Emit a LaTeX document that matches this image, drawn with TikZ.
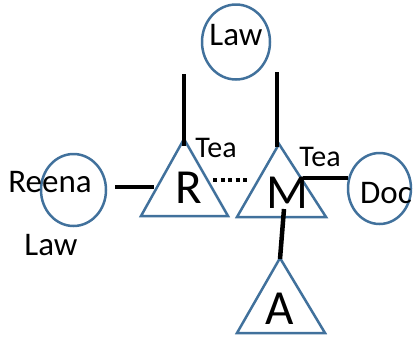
\documentclass[tikz,border=0pt]{standalone}
\usepackage{fontspec}
\setmainfont{Carlito}
\usetikzlibrary{shapes.geometric}
\definecolor{cblue}{HTML}{41719C}
\begin{document}
\begin{tikzpicture}[x=1pt,y=-1pt,
  circ/.style={draw=cblue,line width=2.5pt,ellipse,inner sep=0pt},
  tri/.style={draw=cblue,line width=2.5pt,line join=miter},
  link/.style={black,line width=4.5pt},
  dotlink/.style={black,line width=4.5pt,dash pattern=on 4pt off 3.5pt},
  lbl/.style={inner sep=0pt,font=\fontsize{33}{35}\selectfont},
  tea/.style={inner sep=0pt,font=\fontsize{30}{32}\selectfont},
  big/.style={inner sep=0pt,font=\fontsize{49}{52}\selectfont}]
\useasboundingbox (0,0) rectangle (418,338);
% circles
\node[circ,minimum width=68pt,minimum height=75pt] (lawc) at (236,42) {};
\node[circ,minimum width=65pt,minimum height=72pt] (reenac) at (73.5,190) {};
\node[circ,minimum width=63pt,minimum height=71pt] (docc) at (379.5,188.5) {};
% triangle corners
\coordinate (rt) at (184,139); \coordinate (rl) at (141,216); \coordinate (rr) at (228,216);
\coordinate (mt) at (279,144); \coordinate (ml) at (237,217); \coordinate (mr) at (326,217);
\coordinate (at) at (280,258); \coordinate (al) at (237,333); \coordinate (ar) at (325,333);
\draw[tri] (rt) -- (rl) -- (rr) -- cycle;
\draw[tri] (mt) -- (ml) -- (mr) -- cycle;
\draw[tri] (at) -- (al) -- (ar) -- cycle;
% connector end points
\coordinate (rtop) at (184,74);
\coordinate (mtop) at (277,72);
\coordinate (rvb) at (184,146);
\coordinate (mvb) at (277,147);
\coordinate (reR) at (115,187); \coordinate (reL) at (154,187);
\coordinate (dotA) at (213,180); \coordinate (dotB) at (250,180);
\coordinate (mdA) at (303,178); \coordinate (mdB) at (348,178);
\coordinate (maA) at (284,209); \coordinate (maB) at (280,259);
\draw[link] (rtop) -- (rvb);
\draw[link] (mtop) -- (mvb);
\draw[link] (reR) -- (reL);
\draw[dotlink] (dotA) -- (dotB);
\draw[link] (mdA) -- (mdB);
\draw[link] (maA) -- (maB);
% texts
\node[lbl] (lawt) at (236,35) {Law};
\node[lbl] (reenat) at (50,182.5) {Reena};
\node[lbl] (lawb) at (51,245) {Law};
\node[lbl] (doct) at (386,193.5) {Doc};
\node[tea,anchor=base] (tea1) at (216,157) {Tea};
\node[tea,anchor=base] (tea2) at (320,166) {Tea};
\node[big] (rtxt) at (189,187.5) {R};
\node[big] (mtxt) at (287,192.5) {M};
\node[big] (atxt) at (280,308.5) {A};
\end{tikzpicture}
\end{document}
